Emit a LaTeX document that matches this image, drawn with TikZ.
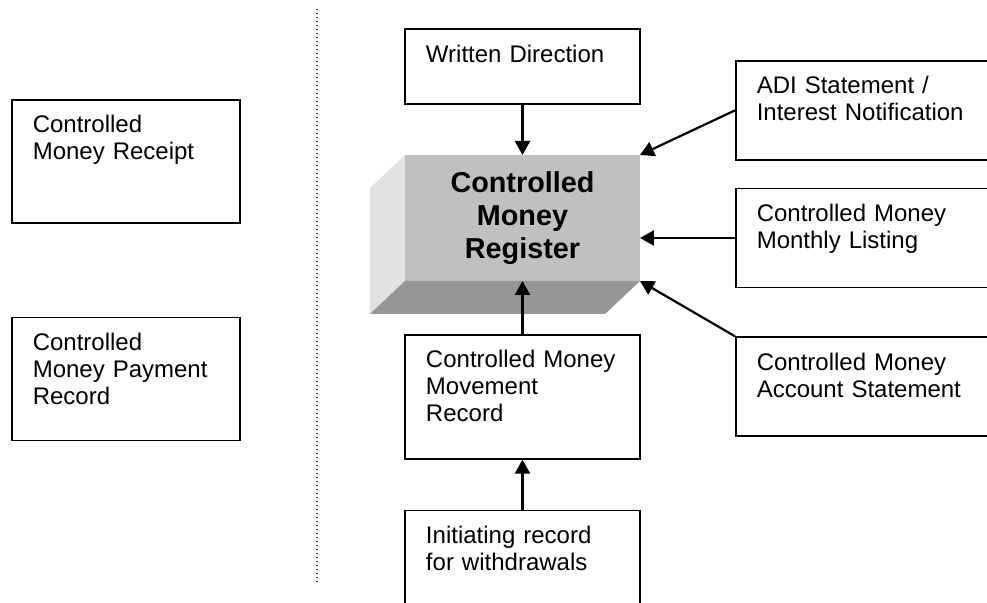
\documentclass[tikz,border=0pt]{standalone}
\usepackage{fontspec}
\setmainfont{Liberation Sans}
\usepackage{tikz}
\usetikzlibrary{arrows.meta,positioning}
\definecolor{FaceGrey}{HTML}{C0C0C0}
\definecolor{SideGrey}{HTML}{E2E2E2}
\definecolor{ShadeGrey}{HTML}{969696}

\begin{document}
\begin{tikzpicture}[
  doc/.style={draw,line width=0.8pt,align=left,inner xsep=10.5pt,inner ysep=0pt,text height=16.5pt,font=\fontsize{12}{13.5}\selectfont},
  mainw/.style={doc,text width=96.5pt},
  sidew/.style={doc,text width=93pt,text depth=45pt},
  farw/.style={doc,text width=114pt,text depth=33pt},
  store/.style={fill=FaceGrey,minimum width=117.5pt,minimum height=63pt,inner sep=0pt,outer sep=0pt,align=center,font=\fontsize{14.4}{16.5}\selectfont\bfseries},
  arr/.style={-{Triangle[length=7pt,width=7.5pt]},line width=1.1pt},
  divider/.style={line width=0.6pt,dash pattern=on 0.6pt off 1.4pt,draw=black!80}
]
\useasboundingbox (-261.25pt,-192.5pt) rectangle (232.25pt,109pt);
\clip (-261.25pt,-192.5pt) rectangle (232.25pt,109pt);

% register block with its two bevel faces
\node[store] (register) at (0,0) {Controlled\\Money\\Register};
\fill[SideGrey] (register.north west) -- ++(-17.5pt,-16.5pt) -- ([shift={(-17.5pt,-16.5pt)}]register.south west) -- (register.south west) -- cycle;
\fill[ShadeGrey] (register.south west) -- ++(-17.5pt,-16.5pt) -- ([shift={(-17.5pt,-16.5pt)}]register.south east) -- (register.south east) -- cycle;

\node[mainw,text depth=21pt,above=25pt of register] (direction) {Written Direction};
\node[mainw,text depth=45.5pt,below=26.5pt of register] (movement) {Controlled Money\\Movement\\Record};
\node[mainw,text depth=43.5pt,below=25pt of movement] (initiating) {Initiating record\\for withdrawals};
\node[farw,right=47.5pt of register,yshift=-10pt] (listing) {Controlled Money\\Monthly Listing};
\node[farw,above=13.5pt of listing] (adi) {ADI Statement /\\Interest Notification};
\node[farw,below=24pt of listing] (statement) {Controlled Money\\Account Statement};
\node[sidew,anchor=north west] (receipt) at (-255.75pt,59.5pt) {Controlled\\Money Receipt};
\node[sidew,below=46.5pt of receipt] (payment) {Controlled\\Money Payment\\Record};

\draw[divider] (-102.75pt,104.5pt) -- (-102.75pt,-182.5pt);

\draw[arr] (direction.south) -- (register.north);
\draw[arr] (movement.north) -- (register.south);
\draw[arr] (initiating.north) -- (movement.south);
\draw[arr] (adi.west) -- (register.north east);
\draw[arr] (listing.west) -- (listing.west -| register.east);
\draw[arr] (statement.north west) -- (register.south east);
\end{tikzpicture}
\end{document}
